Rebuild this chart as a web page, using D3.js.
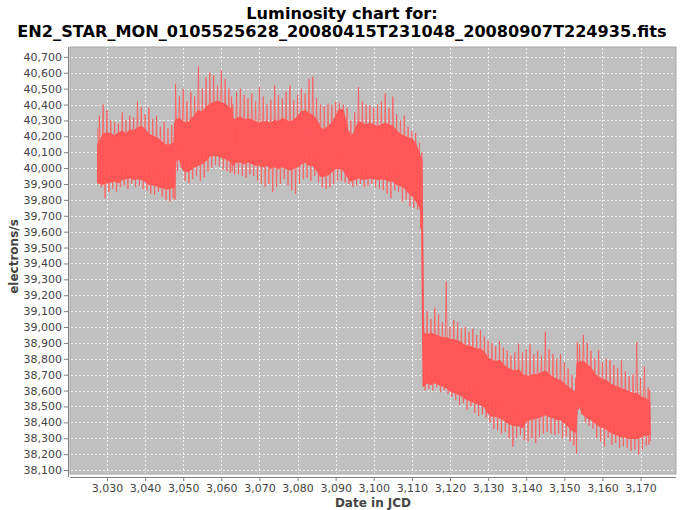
<!DOCTYPE html>
<html><head><meta charset="utf-8">
<script src="https://cdn.jsdelivr.net/npm/d3@7/dist/d3.min.js"></script>
<style>body{margin:0;background:#fff}svg{display:block}</style>
</head><body>
<svg id="chart" width="684" height="510"></svg>
<script>
const titleLines = ["Luminosity chart for:", "EN2_STAR_MON_0105525628_20080415T231048_20080907T224935.fits"];
const xLabel = "Date in JCD";
const yLabel = "electrons/s";
const xTicks = [3030,3040,3050,3060,3070,3080,3090,3100,3110,3120,3130,3140,3150,3160,3170];
const yTicks = [38100,38200,38300,38400,38500,38600,38700,38800,38900,39000,39100,39200,39300,39400,39500,39600,39700,39800,39900,40000,40100,40200,40300,40400,40500,40600,40700];

const days = [
3027.6,3028,3029,3030,3031,3032,3033,3034,3035,3036,3037,3038,3039,3040,3041,3042,3043,3044,3045,3046,3047,3047.7,
3048,3049,3050,3051,3052,3053,3054,3055,3056,3057,3058,3059,3060,3061,3062,3062.7,
3063,3064,3065,3066,3067,3068,3069,3070,3071,3072,3073,3074,3075,3076,3077,3078,3079,3080,3081,3082,3083,3084,3085,3086,3087,3088,3089,3090,3091,3092,3093,3094,3095,3096,3097,3098,3099,3100,3101,3102,3103,3104,3105,3106,3107,3108,3109,3110,3111,3112,3112.6,
3113,3114,3115,3116,3117,3118,3119,3120,3121,3122,3123,3124,3125,3126,3127,3128,3129,3130,3131,3132,3133,3134,3135,3136,3137,3138,3139,3140,3141,3142,3143,3144,3145,3146,3147,3148,3149,3150,3151,3152,3153,
3153.4,3154,3155,3156,3157,3158,3159,3160,3161,3162,3163,3164,3165,3166,3167,3168,3169,3170,3171,3172,3172.4];

// dense core band (upper / lower edge), electrons/s
const coreHigh = [
40150,40160,40210,40220,40215,40200,40220,40230,40210,40240,40230,40250,40260,40240,40210,40200,40190,40170,40150,40140,40150,40160,
40300,40310,40290,40280,40300,40330,40360,40350,40380,40400,40410,40420,40410,40400,40380,40370,
40300,40310,40320,40300,40310,40300,40290,40280,40290,40290,40280,40300,40290,40310,40300,40290,40300,40320,40350,40360,40340,40330,40300,40250,40240,40260,40280,40320,40370,40360,40250,40190,40230,40290,40280,40270,40280,40270,40260,40270,40280,40270,40260,40230,40210,40200,40190,40180,40150,40080,40050,
38960,38950,38960,38950,38940,38930,38930,38920,38920,38910,38900,38880,38880,38870,38860,38860,38840,38800,38790,38780,38790,38760,38740,38730,38720,38730,38700,38690,38690,38700,38700,38710,38720,38700,38680,38670,38660,38640,38620,38600,38590,
38770,38780,38780,38760,38740,38700,38680,38670,38660,38640,38630,38620,38610,38600,38590,38580,38580,38560,38550,38540,38520];
const coreLow = [
39910,39905,39900,39910,39915,39920,39910,39930,39935,39940,39930,39935,39930,39920,39900,39895,39890,39880,39875,39870,39880,39880,
40050,40060,39990,39980,39990,40010,40020,40030,40050,40080,40080,40080,40070,40060,40050,40040,
40020,40040,40040,40030,40040,40030,40020,40020,40010,40020,40000,40010,40000,40010,40000,39990,40000,40010,40030,40040,40020,40020,39990,39950,39950,39960,39980,40000,40000,39990,39950,39920,39930,39940,39930,39935,39940,39935,39930,39935,39930,39920,39920,39900,39890,39880,39850,39830,39800,39760,39720,
38630,38650,38640,38650,38640,38630,38620,38600,38590,38580,38570,38550,38540,38530,38520,38510,38500,38460,38440,38440,38430,38420,38400,38390,38380,38380,38370,38410,38420,38425,38430,38440,38450,38440,38430,38420,38420,38400,38380,38350,38340,
38520,38500,38450,38430,38420,38400,38380,38370,38360,38340,38330,38320,38310,38310,38300,38300,38300,38310,38320,38320,38330];
// outlying spikes (max / min reached around each point)
const spikeHigh = [
40250,40330,40400,40365,40300,40290,40280,40350,40300,40330,40320,40420,40385,40340,40380,40310,40330,40260,40290,40250,40270,40290,
40530,40450,40500,40420,40480,40450,40640,40500,40570,40600,40585,40520,40615,40560,40500,40450,
40400,40480,40500,40460,40440,40470,40420,40510,40450,40400,40430,40520,40460,40440,40480,40520,40430,40460,40500,40470,40560,40575,40440,40400,40390,40405,40400,40415,40410,40400,40380,40300,40350,40510,40420,40400,40395,40380,40400,40420,40470,40380,40450,40340,40300,40330,40260,40230,40220,40160,40100,
39130,39100,39050,39120,39080,39030,39285,39000,39045,39030,38990,39000,38970,38990,38950,38980,38940,38915,38900,38880,38910,38870,38850,38820,38840,38895,38840,38860,38890,38830,38850,38820,38970,38860,38830,38800,38830,38780,38740,38700,38680,
38905,38890,38950,38900,38850,38800,38855,38780,38800,38790,38760,38740,38790,38720,38690,38700,38905,38680,38750,38620,38600];
const spikeLow = [
39900,39880,39810,39850,39870,39850,39880,39890,39870,39900,39880,39890,39870,39860,39840,39830,39850,39820,39800,39790,39810,39800,
39980,40000,39920,39905,39930,39950,39920,39940,39980,40000,40020,40010,39990,39980,39970,39980,
39960,39960,39950,39940,39960,39950,39920,39900,39880,39900,39850,39880,39900,39930,39890,39860,39840,39900,39930,39940,39920,39950,39910,39880,39870,39880,39900,39920,39920,39910,39900,39880,39890,39900,39880,39890,39900,39880,39870,39860,39840,39810,39860,39850,39790,39800,39760,39750,39740,39620,39600,
38600,38610,38600,38620,38590,38600,38580,38560,38540,38510,38520,38480,38500,38460,38440,38450,38430,38400,38360,38350,38330,38340,38300,38245,38300,38320,38290,38280,38300,38270,38310,38330,38340,38330,38320,38330,38300,38310,38280,38255,38205,
38480,38450,38400,38380,38360,38300,38280,38250,38300,38260,38270,38240,38250,38240,38220,38230,38195,38230,38250,38260,38280];

const W = 684, H = 510;
const plot = {left: 70, right: 676, top: 47, bottom: 474};
const svg = d3.select("#chart");
const red = "#ff5555";

const x = d3.scaleLinear().domain([3020.3, 3179.3]).range([plot.left, plot.right]);
const y = d3.scaleLinear().domain([38075, 40762]).range([plot.bottom, plot.top]);

// title
const tg = svg.append("g").attr("font-family", "DejaVu Sans, sans-serif").attr("font-weight", "bold").attr("fill", "#000").attr("text-anchor", "middle");
const t1 = tg.append("text").attr("x", W/2).attr("y", 19).attr("font-size", 17).text(titleLines[0]);
const t2 = tg.append("text").attr("x", W/2).attr("y", 37).attr("font-size", 17).text(titleLines[1]);
const len2 = t2.node().getComputedTextLength();
const fs = 17 * 650 / len2;
t1.attr("font-size", fs); t2.attr("font-size", fs);

// plot background
svg.append("rect").attr("x", plot.left).attr("y", plot.top)
  .attr("width", plot.right - plot.left).attr("height", plot.bottom - plot.top)
  .attr("fill", "#c0c0c0").attr("stroke", "#a8a8a8").attr("stroke-width", 1);

// gridlines
const grid = svg.append("g").attr("stroke", "#ffffff").attr("stroke-opacity", 0.75)
  .attr("stroke-width", 1).attr("stroke-dasharray", "2,2");
grid.selectAll(".gx").data(xTicks).join("line")
  .attr("x1", d => Math.round(x(d)) + 0.5).attr("x2", d => Math.round(x(d)) + 0.5)
  .attr("y1", plot.top + 1).attr("y2", plot.bottom - 1);
grid.selectAll(".gy").data(yTicks).join("line")
  .attr("y1", d => Math.round(y(d)) + 0.5).attr("y2", d => Math.round(y(d)) + 0.5)
  .attr("x1", plot.left + 1).attr("x2", plot.right - 1);

// data: core band
const idx = d3.range(days.length);
const area = d3.area().x(i => x(days[i])).y0(i => y(coreLow[i])).y1(i => y(coreHigh[i]));
svg.append("path").datum(idx).attr("d", area).attr("fill", red).attr("stroke", red).attr("stroke-width", 1.6);

// data: spikes (line alternating between high and low excursions)
const pts = [];
idx.forEach(i => {
  const gap = i < days.length - 1 ? days[i+1] - days[i] : 0.4;
  pts.push([days[i], spikeHigh[i]]);
  pts.push([days[i] + gap * 0.5, spikeLow[i]]);
});
const line = d3.line().x(d => x(d[0])).y(d => y(d[1]));
svg.append("path").datum(pts).attr("d", line).attr("fill", "none")
  .attr("stroke", "#ff5a5a").attr("stroke-width", 1).attr("stroke-opacity", 0.8);

// axes
const fmt = d3.format(",");
const yAxis = d3.axisLeft(y).tickValues(yTicks).tickFormat(fmt).tickSize(4).tickPadding(2);
const xAxis = d3.axisBottom(x).tickValues(xTicks).tickFormat(fmt).tickSize(4).tickPadding(3);
const ya = svg.append("g").attr("transform", `translate(${plot.left - 2},0)`).call(yAxis);
const xa = svg.append("g").attr("transform", `translate(0,${plot.bottom + 3})`).call(xAxis);
[ya, xa].forEach(a => {
  a.select(".domain").attr("stroke", "#808080");
  a.selectAll(".tick line").attr("stroke", "#808080");
  a.selectAll("text").attr("fill", "#444").attr("font-size", 11).attr("font-family", "DejaVu Sans, sans-serif");
});
ya.select(".domain").attr("d", `M0.5,${plot.top}V${plot.bottom + 3}`);
xa.select(".domain").attr("d", `M${plot.left},0.5H${plot.right}`);

svg.append("text").attr("x", (plot.left + plot.right) / 2).attr("y", 507)
  .attr("text-anchor", "middle").attr("font-family", "DejaVu Sans, sans-serif")
  .attr("font-weight", "bold").attr("font-size", 12).attr("fill", "#444").text(xLabel);
svg.append("text").attr("transform", `translate(18,${(plot.top + plot.bottom) / 2 - 4}) rotate(-90)`)
  .attr("text-anchor", "middle").attr("font-family", "DejaVu Sans, sans-serif")
  .attr("font-weight", "bold").attr("font-size", 12).attr("fill", "#444").text(yLabel);
</script>
</body></html>
